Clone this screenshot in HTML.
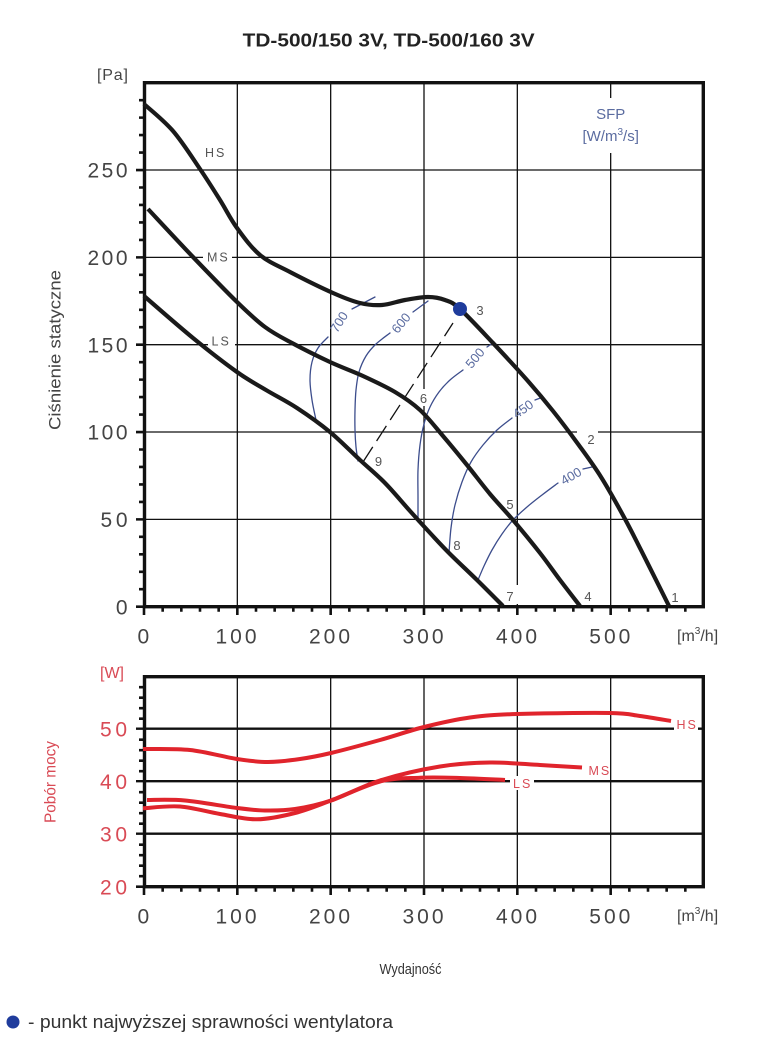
<!DOCTYPE html>
<html><head><meta charset="utf-8"><style>body{margin:0;background:#fff}svg{display:block}</style></head>
<body>
<svg id="chart" width="773" height="1041" viewBox="0 0 773 1041" xmlns="http://www.w3.org/2000/svg" font-family="'Liberation Sans', 'DejaVu Sans', sans-serif">
<rect width="773" height="1041" fill="#fff"/>
<text x="242.7" y="46.5" font-size="18" font-weight="bold" fill="#222" textLength="292" lengthAdjust="spacingAndGlyphs">TD-500/150 3V, TD-500/160 3V</text>

<!-- ===== TOP CHART ===== -->
<g stroke="#111" stroke-width="1.3" fill="none">
  <path d="M237.33 82.7V615M330.67 82.7V615M424 82.7V615M517.33 82.7V615M610.67 82.7V615"/>
  <path d="M136 519.37H703.3M136 432.03H703.3M136 344.7H703.3M136 257.37H703.3M136 170.03H703.3"/>
</g>
<g stroke="#111" stroke-width="2.6" fill="none">
  <path d="M139 589.23H144M139 571.77H144M139 554.3H144M139 536.83H144M139 501.9H144M139 484.43H144M139 466.97H144M139 449.5H144M139 414.57H144M139 397.1H144M139 379.63H144M139 362.17H144M139 327.23H144M139 309.77H144M139 292.3H144M139 274.83H144M139 239.9H144M139 222.43H144M139 204.97H144M139 187.5H144M139 152.57H144M139 135.1H144M139 117.63H144M139 100.17H144"/>
  <path d="M136 519.37H144M136 432.03H144M136 344.7H144M136 257.37H144M136 170.03H144M136 606.7H144"/>
  <path d="M162.67 606.7v5M181.33 606.7v5M200 606.7v5M218.67 606.7v5M256 606.7v5M274.67 606.7v5M293.33 606.7v5M312 606.7v5M349.33 606.7v5M368 606.7v5M386.67 606.7v5M405.33 606.7v5M442.67 606.7v5M461.33 606.7v5M480 606.7v5M498.67 606.7v5M536 606.7v5M554.67 606.7v5M573.33 606.7v5M592 606.7v5M629.33 606.7v5M648 606.7v5M666.67 606.7v5M685.33 606.7v5"/>
  <path d="M144 606.7V615M237.33 606.7V615M330.67 606.7V615M424 606.7V615M517.33 606.7V615M610.67 606.7V615"/>
</g>
<g fill="#fff">
  <rect x="570" y="98" width="82" height="55"/>
  <rect x="203" y="250" width="29" height="14"/>
  <rect x="208" y="334" width="27" height="14"/>
  <rect x="577" y="427" width="21" height="10"/>
  <rect x="503" y="585" width="20" height="19"/>
  <rect x="417" y="389" width="13" height="17"/>
</g>
<rect x="144.5" y="82.7" width="558.8" height="524" fill="none" stroke="#111" stroke-width="3.4"/>

<!-- SFP lines -->
<g stroke="#3c4d8c" stroke-width="1.3" fill="none" stroke-linejoin="round" stroke-linecap="round">
  <polyline points="375,297 352,309"/>
  <polyline class="s" points="328,337 318,348 312,362 310,380 312,400 316,420"/>
  <polyline points="428,301 413,312"/>
  <polyline class="s" points="390,333 376,344 366,356 359,372 356,390 355,410 355,430 356,447 358,461"/>
  <polyline points="493,343 487,347"/>
  <polyline class="s" points="463,370 450,380 439,392 430,407 424,424 420,445 418,470 418,497 418,522"/>
  <polyline points="543,397 535,400"/>
  <polyline class="s" points="512,418 497,430 483,445 471,462 462,482 455,505 451,528 449,553"/>
  <polyline points="592,467 583,469"/>
  <polyline class="s" points="558,483 542,495 527,507 513,520 502,534 492,550 484,566 478,580"/>
</g>
<g fill="#5b6ca0" font-size="13" text-anchor="middle">
  <text transform="translate(339,322) rotate(-58)" dominant-baseline="central">700</text>
  <text transform="translate(401,323) rotate(-50)" dominant-baseline="central">600</text>
  <text transform="translate(475,358) rotate(-50)" dominant-baseline="central">500</text>
  <text transform="translate(523,409) rotate(-35)" dominant-baseline="central">450</text>
  <text transform="translate(571,476) rotate(-30)" dominant-baseline="central">400</text>
</g>
<line x1="363" y1="462" x2="453" y2="323" stroke="#111" stroke-width="1.3" stroke-dasharray="18 7"/>

<!-- fan curves -->
<g stroke="#1a1a1a" stroke-width="4.2" fill="none" stroke-linejoin="round" stroke-linecap="butt">
  <polyline class="s" points="144,104 173,131 200,169 220,200 237,228 260,255 290,272 333,293 360,303 382,305 405,300 428,297 445,300 460,309 493,343 527,380 553,411 578,444 601,477 625,519 647,562 669,606"/>
  <polyline class="s" points="148,209 193,257 237,302 265,327 292,343 330,362 363,376 395,392 420,410 443,436 467,465 490,494 513,520 540,553 560,580 580,606"/>
  <polyline class="s" points="144,296 193,338 237,372 266,390 297,408 330,432 360,460 385,483 410,511 431,534 450,554 477,580 503,606"/>
</g>
<circle cx="460" cy="309" r="7" fill="#1f3c9c"/>

<g fill="#555" font-size="13" text-anchor="middle">
  <text x="675" y="602">1</text>
  <text x="591" y="444">2</text>
  <text x="480" y="315">3</text>
  <text x="588" y="601">4</text>
  <text x="510" y="509">5</text>
  <text x="423.5" y="403">6</text>
  <text x="510" y="601">7</text>
  <text x="457" y="550">8</text>
  <text x="378.5" y="466">9</text>
</g>
<g fill="#555" font-size="12.5" letter-spacing="2">
  <text x="205" y="157">HS</text>
  <text x="207" y="261.5">MS</text>
  <text x="211.5" y="345.5">LS</text>
</g>
<g fill="#5b6ca0" font-size="15" text-anchor="middle">
  <text x="610.7" y="119">SFP</text>
  <text x="610.7" y="141">[W/m<tspan font-size="10" dy="-6">3</tspan><tspan dy="6">/s]</tspan></text>
</g>

<g fill="#444" font-size="21" text-anchor="end">
  <text x="127.5" y="177.6" textLength="40" lengthAdjust="spacing">250</text>
  <text x="127.5" y="265" textLength="40" lengthAdjust="spacing">200</text>
  <text x="127.5" y="352.3" textLength="40" lengthAdjust="spacing">150</text>
  <text x="127.5" y="439.6" textLength="40" lengthAdjust="spacing">100</text>
  <text x="127.5" y="527" textLength="27" lengthAdjust="spacing">50</text>
  <text x="127.5" y="614.3">0</text>
</g>
<g fill="#444" font-size="21">
  <text x="137.5" y="643.3">0</text>
  <text x="215.5" y="643.3" textLength="41" lengthAdjust="spacing">100</text>
  <text x="309" y="643.3" textLength="41" lengthAdjust="spacing">200</text>
  <text x="402.5" y="643.3" textLength="41" lengthAdjust="spacing">300</text>
  <text x="496" y="643.3" textLength="41" lengthAdjust="spacing">400</text>
  <text x="589.3" y="643.3" textLength="41" lengthAdjust="spacing">500</text>
</g>
<text x="677" y="641" fill="#444" font-size="16">[m<tspan font-size="10" dy="-7">3</tspan><tspan dy="7">/h]</tspan></text>
<text x="97" y="80" fill="#444" font-size="16" textLength="31" lengthAdjust="spacing">[Pa]</text>
<text transform="translate(55,350) rotate(-90)" text-anchor="middle" dominant-baseline="central" fill="#444" font-size="17" textLength="160" lengthAdjust="spacingAndGlyphs">Ciśnienie statyczne</text>

<!-- ===== BOTTOM CHART ===== -->
<g stroke="#111" stroke-width="1.3" fill="none">
  <path d="M237.33 676.7V895M330.67 676.7V895M424 676.7V895M517.33 676.7V895M610.67 676.7V895"/>
</g>
<g stroke="#111" stroke-width="2.4" fill="none">
  <path d="M136 833.7H703.3M136 781.2H703.3M136 728.7H703.3"/>
</g>
<g stroke="#111" stroke-width="2.6" fill="none">
  <path d="M139 876.2H144M139 865.7H144M139 855.2H144M139 844.7H144M139 823.7H144M139 813.2H144M139 802.7H144M139 792.2H144M139 771.2H144M139 760.7H144M139 750.2H144M139 739.7H144M139 718.7H144M139 708.2H144M139 697.7H144M139 687.2H144"/>
  <path d="M136 886.7H144"/>
  <path d="M162.67 886.7v5M181.33 886.7v5M200 886.7v5M218.67 886.7v5M256 886.7v5M274.67 886.7v5M293.33 886.7v5M312 886.7v5M349.33 886.7v5M368 886.7v5M386.67 886.7v5M405.33 886.7v5M442.67 886.7v5M461.33 886.7v5M480 886.7v5M498.67 886.7v5M536 886.7v5M554.67 886.7v5M573.33 886.7v5M592 886.7v5M629.33 886.7v5M648 886.7v5M666.67 886.7v5M685.33 886.7v5"/>
  <path d="M144 886.7V895M237.33 886.7V895M330.67 886.7V895M424 886.7V895M517.33 886.7V895M610.67 886.7V895"/>
</g>
<g fill="#fff">
  <rect x="674" y="716" width="24" height="16"/>
  <rect x="510" y="776" width="24" height="14"/>
</g>
<rect x="144.5" y="676.7" width="558.8" height="210" fill="none" stroke="#111" stroke-width="3.4"/>

<g stroke="#e0242c" stroke-width="4" fill="none" stroke-linejoin="round">
  <polyline class="s" points="143,749 190,750 237,759 268,762 300,759 331,753 380,740 424,727 470,717.5 517,714 610,713 640,716 671,721"/>
  <polyline class="s" points="147,800 185,800.5 237,808 265,810.5 295,809 331,800.5 380,780.5 440,766.5 490,762.5 540,765 582,767.5"/>
  <polyline class="s" points="143,808.3 180,806.5 220,814 257,819.3 295,813 331,800.5 380,781.5 420,777.8 460,778 505,780"/>
</g>
<g fill="#d94a55" font-size="12.5" letter-spacing="2">
  <text x="676.5" y="729">HS</text>
  <text x="588.5" y="775">MS</text>
  <text x="513" y="788">LS</text>
</g>

<g fill="#d94a55" font-size="21" text-anchor="end">
  <text x="127" y="736.3" textLength="27" lengthAdjust="spacing">50</text>
  <text x="127" y="788.8" textLength="27" lengthAdjust="spacing">40</text>
  <text x="127" y="841.3" textLength="27" lengthAdjust="spacing">30</text>
  <text x="127" y="894.3" textLength="27" lengthAdjust="spacing">20</text>
</g>
<text x="100" y="678" fill="#d94a55" font-size="16" textLength="24" lengthAdjust="spacing">[W]</text>
<text transform="translate(51,782) rotate(-90)" text-anchor="middle" dominant-baseline="central" fill="#d94a55" font-size="16" textLength="82" lengthAdjust="spacingAndGlyphs">Pobór mocy</text>

<g fill="#444" font-size="21">
  <text x="137.5" y="923.3">0</text>
  <text x="215.5" y="923.3" textLength="41" lengthAdjust="spacing">100</text>
  <text x="309" y="923.3" textLength="41" lengthAdjust="spacing">200</text>
  <text x="402.5" y="923.3" textLength="41" lengthAdjust="spacing">300</text>
  <text x="496" y="923.3" textLength="41" lengthAdjust="spacing">400</text>
  <text x="589.3" y="923.3" textLength="41" lengthAdjust="spacing">500</text>
</g>
<text x="677" y="921" fill="#444" font-size="16">[m<tspan font-size="10" dy="-7">3</tspan><tspan dy="7">/h]</tspan></text>

<text x="379.5" y="974" fill="#333" font-size="15" textLength="62" lengthAdjust="spacingAndGlyphs">Wydajność</text>

<circle cx="13" cy="1022" r="6.5" fill="#1f3c9c"/>
<text x="28" y="1028" fill="#333" font-size="18" textLength="365" lengthAdjust="spacingAndGlyphs">- punkt najwyższej sprawności wentylatora</text>
</svg>
<script>
(function(){
  var NS="http://www.w3.org/2000/svg";
  var pls=document.querySelectorAll("polyline.s");
  for(var i=0;i<pls.length;i++){
    var pl=pls[i];
    var raw=pl.getAttribute("points").trim().split(/\s+/);
    var p=raw.map(function(s){var a=s.split(",");return [parseFloat(a[0]),parseFloat(a[1])];});
    if(p.length<3) continue;
    var d="M"+p[0][0]+" "+p[0][1];
    for(var k=0;k<p.length-1;k++){
      var p0=p[k>0?k-1:0],p1=p[k],p2=p[k+1],p3=p[k+2<p.length?k+2:p.length-1];
      var c1x=p1[0]+(p2[0]-p0[0])/6,c1y=p1[1]+(p2[1]-p0[1])/6;
      var c2x=p2[0]-(p3[0]-p1[0])/6,c2y=p2[1]-(p3[1]-p1[1])/6;
      d+="C"+c1x.toFixed(2)+" "+c1y.toFixed(2)+" "+c2x.toFixed(2)+" "+c2y.toFixed(2)+" "+p2[0]+" "+p2[1];
    }
    var path=document.createElementNS(NS,"path");
    path.setAttribute("d",d);
    path.setAttribute("fill","none");
    pl.parentNode.replaceChild(path,pl);
  }
})();
</script>
</body></html>
